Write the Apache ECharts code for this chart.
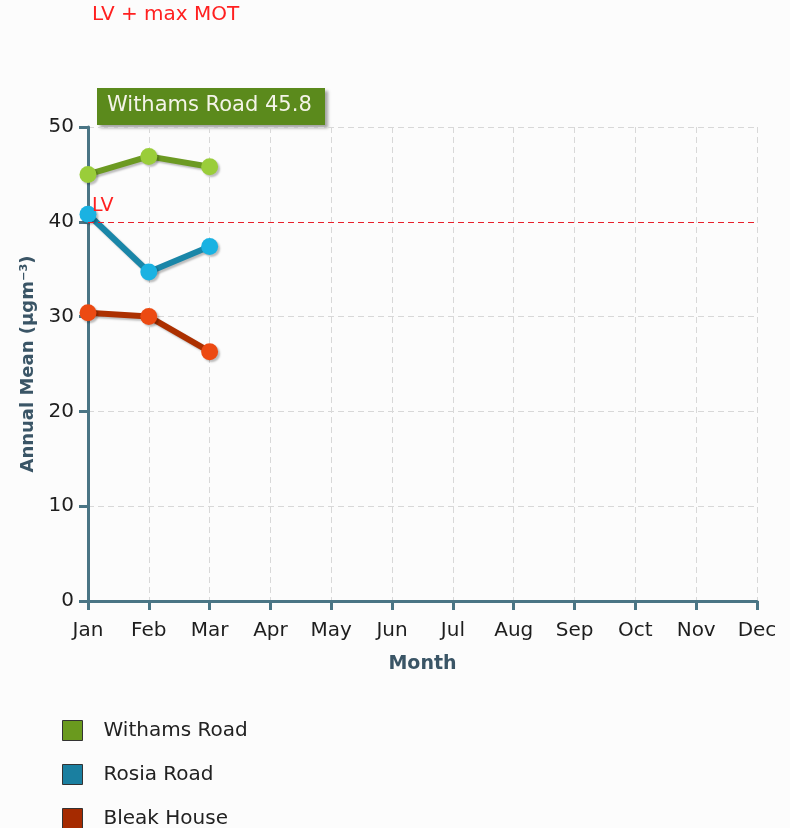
<!DOCTYPE html>
<html>
<head>
<meta charset="utf-8">
<script src="https://cdn.jsdelivr.net/npm/echarts@6/dist/echarts.min.js"></script>
<style>
  html, body { margin: 0; padding: 0; background: #fcfcfc; }
  #chart { width: 790px; height: 828px; }
</style>
</head>
<body>
<div id="chart"></div>
<script>
const months = ['Jan', 'Feb', 'Mar', 'Apr', 'May', 'Jun', 'Jul', 'Aug', 'Sep', 'Oct', 'Nov', 'Dec'];
const withamsRoad = [45.0, 46.9, 45.8];
const rosiaRoad = [40.8, 34.7, 37.4];
const bleakHouse = [30.4, 30.0, 26.3];
const limitValue = 40;

const font = 'DejaVu Sans, Verdana, sans-serif';
const axisColor = '#4a7585';

const chart = echarts.init(document.getElementById('chart'));

function lineSeries(name, data, lineColor, pointColor) {
  return {
    name: name,
    type: 'line',
    data: data,
    symbol: 'circle',
    symbolSize: 17,
    lineStyle: { color: lineColor, width: 6, shadowColor: 'rgba(0,0,0,0.25)', shadowOffsetX: 2, shadowOffsetY: 2, shadowBlur: 2 },
    itemStyle: { color: pointColor, shadowColor: 'rgba(0,0,0,0.25)', shadowOffsetX: 2, shadowOffsetY: 2, shadowBlur: 2 },
    emphasis: { disabled: true },
    z: 3,
  };
}

const series = [
  lineSeries('Withams Road', withamsRoad, '#6c9a22', '#9acd3a'),
  lineSeries('Rosia Road', rosiaRoad, '#1a86a8', '#1ab2e2'),
  lineSeries('Bleak House', bleakHouse, '#ac3000', '#ec4a12'),
];
// LV reference line
series[0].markLine = {
  silent: true,
  symbol: 'none',
  lineStyle: { color: '#e8202a', type: [6, 4], width: 1 },
  label: { position: 'insideStartTop', formatter: 'LV', color: '#ff2020', fontFamily: font, fontSize: 19, distance: [4, 6] },
  data: [{ yAxis: limitValue }],
};

chart.setOption({
  backgroundColor: '#fcfcfc',
  animation: false,
  textStyle: { fontFamily: font },
  grid: { left: 88, right: 33, top: 127, bottom: 227 },
  legend: {
    orient: 'vertical',
    left: 62,
    top: 720,
    height: 120,
    padding: 0,
    itemWidth: 20,
    itemHeight: 20,
    itemGap: 23,
    icon: 'rect',
    selectedMode: false,
    textStyle: { color: '#222', fontSize: 20, lineHeight: 20, fontFamily: font, padding: [0, 0, 0, 16] },
    data: [
      { name: 'Withams Road', itemStyle: { color: '#6a9a1e', borderColor: '#333', borderWidth: 1 } },
      { name: 'Rosia Road', itemStyle: { color: '#1a7fa0', borderColor: '#333', borderWidth: 1 } },
      { name: 'Bleak House', itemStyle: { color: '#a52a00', borderColor: '#333', borderWidth: 1 } },
    ],
  },
  xAxis: {
    type: 'category',
    data: months,
    boundaryGap: false,
    name: 'Month',
    nameLocation: 'middle',
    nameGap: 54,
    nameTextStyle: { color: '#3a5566', fontWeight: 'bold', fontSize: 19, fontFamily: font },
    axisLine: { lineStyle: { color: axisColor, width: 3 } },
    axisTick: { show: true, length: 9, lineStyle: { color: axisColor, width: 3 } },
    axisLabel: { color: '#1e1e1e', fontSize: 20, fontFamily: font, margin: 20, showMaxLabel: true },
    splitLine: { show: true, lineStyle: { color: '#d8d8d8', type: [6, 4], width: 1 } },
  },
  yAxis: {
    type: 'value',
    min: 0,
    max: 50,
    interval: 10,
    name: 'Annual Mean (µgm⁻³)',
    nameLocation: 'middle',
    nameGap: 50,
    nameTextStyle: { color: '#3a5566', fontWeight: 'bold', fontSize: 18, fontFamily: font },
    axisLine: { show: true, lineStyle: { color: axisColor, width: 3 } },
    axisTick: { show: true, length: 9, lineStyle: { color: axisColor, width: 3 } },
    axisLabel: { color: '#1e1e1e', fontSize: 20, fontFamily: font, margin: 14 },
    splitLine: { show: true, lineStyle: { color: '#d8d8d8', type: [6, 4], width: 1 } },
  },
  graphic: [
    {
      type: 'text',
      left: 92,
      top: 5,
      style: { text: 'LV + max MOT', fill: '#ff2020', font: '20px ' + font },
    },
    {
      type: 'group',
      left: 97,
      top: 88,
      z: 100,
      children: [
        {
          type: 'rect',
          shape: { x: 0, y: 0, width: 228, height: 37 },
          style: { fill: '#5b8a1c', shadowColor: 'rgba(0,0,0,0.35)', shadowOffsetX: 3, shadowOffsetY: 3, shadowBlur: 3 },
        },
        {
          type: 'text',
          x: 10,
          y: 7,
          style: { text: 'Withams Road 45.8', fill: '#f4f4e8', font: '21px ' + font },
        },
      ],
    },
  ],
  series: series,
});
</script>
</body>
</html>
